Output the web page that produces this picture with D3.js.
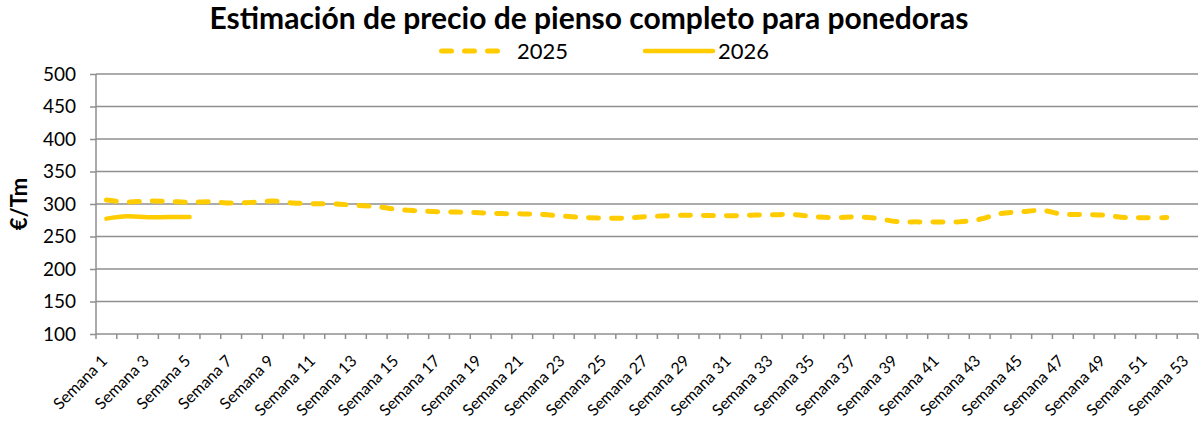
<!DOCTYPE html>
<html>
<head>
<meta charset="utf-8">
<script src="https://cdn.jsdelivr.net/npm/d3@7"></script>
<style>
  body { margin: 0; background: #fff; }
  text { font-family: Lato, "Open Sans", sans-serif; fill: #000; }
</style>
</head>
<body>
<div id="chart"></div>
<script>
// categories: Semana 1 .. Semana 53
var semanas = d3.range(1, 54).map(function(n) { return 'Semana ' + n; });

var precio2025 = [306, 303, 304.5, 304, 302.5, 303.5, 301.5, 302.5, 304.5, 301.5,
                  300.5, 300, 298, 296, 291.5, 289.5, 288, 287.5, 286.5, 285.3,
                  284.8, 283.8, 281.3, 279.2, 278.2, 278.2, 280.7, 281.8, 282.8, 282.3,
                  281.8, 282.8, 283.3, 283.8, 280.7, 279, 280.2, 278.2, 273, 272.5,
                  272.5, 272.5, 276.5, 285.3, 288, 290, 284.3, 283.8, 282.8, 279.2,
                  278.7, 279.2];

var precio2026 = [277.5, 281, 279.5, 280, 280];

var yTicks = [100, 150, 200, 250, 300, 350, 400, 450, 500];

var width = 1199,
    height = 422,
    margin = {top: 74, right: 1, left: 96, bottom: 88},
    amarillo = '#FFCC00',
    gris = '#8f8f8f';

var svg = d3.select('#chart').append('svg')
  .attr('width', width)
  .attr('height', height);

var xScale = d3.scaleBand()
  .domain(semanas)
  .range([margin.left, width - margin.right]);

var yScale = d3.scaleLinear()
  .domain([100, 500])
  .range([height - margin.bottom, margin.top]);

// gridlines
svg.append('g')
  .selectAll('line').data(yTicks.slice(1))
  .enter().append('line')
    .attr('x1', margin.left)
    .attr('x2', width - margin.right)
    .attr('y1', function(d) { return yScale(d); })
    .attr('y2', function(d) { return yScale(d); })
    .attr('stroke', gris)
    .attr('stroke-width', 1.5);

// y axis
var yAxis = svg.append('g')
  .attr('transform', 'translate(' + margin.left + ',0)')
  .call(d3.axisLeft(yScale).tickValues(yTicks).tickSize(6).tickPadding(14));
yAxis.selectAll('path, line').attr('stroke', gris).attr('stroke-width', 1.5);
yAxis.select('.domain').attr('d', 'M0,' + yScale(500) + 'V' + yScale(100));
yAxis.selectAll('text')
  .style('font-size', '19px')
  .style('font-family', 'Lato, sans-serif')
  .attr('fill', '#000');

// x axis: ticks on band edges, labels on odd weeks
var xBase = yScale(100);
svg.append('line')
  .attr('x1', margin.left).attr('x2', width - margin.right)
  .attr('y1', xBase).attr('y2', xBase)
  .attr('stroke', gris).attr('stroke-width', 1.5);

svg.append('g')
  .selectAll('line').data(semanas.concat(['fin']))
  .enter().append('line')
    .attr('x1', function(d, i) { return margin.left + i * xScale.bandwidth(); })
    .attr('x2', function(d, i) { return margin.left + i * xScale.bandwidth(); })
    .attr('y1', xBase)
    .attr('y2', xBase + 5)
    .attr('stroke', gris)
    .attr('stroke-width', 1.5);

svg.append('g')
  .selectAll('text').data(semanas.filter(function(d, i) { return i % 2 === 0; }))
  .enter().append('text')
    .attr('transform', function(d) {
      var x = xScale(d) + xScale.bandwidth() / 2 + 2;
      return 'translate(' + x + ',' + (xBase + 28) + ') rotate(-45)';
    })
    .attr('text-anchor', 'end')
    .style('font-size', '16px')
    .text(function(d) { return d; });

// y axis title
svg.append('text')
  .attr('transform', 'translate(27,' + 204 + ') rotate(-90)')
  .attr('text-anchor', 'middle')
  .style('font-size', '22px')
  .style('font-weight', 'bold')
  .text('€/Tm');

// title
svg.append('text')
  .attr('x', 589)
  .attr('y', 29)
  .attr('text-anchor', 'middle')
  .style('font-size', '30px')
  .style('font-weight', 'bold')
  .text('Estimación de precio de pienso completo para ponedoras');

// lines
var line = d3.line()
  .x(function(d, i) { return xScale(semanas[i]) + xScale.bandwidth() / 2; })
  .y(function(d) { return yScale(d); })
  .curve(d3.curveCatmullRom);

svg.append('path')
  .datum(precio2025)
  .attr('d', line)
  .attr('fill', 'none')
  .attr('stroke', amarillo)
  .attr('stroke-width', 5)
  .attr('stroke-linecap', 'round')
  .attr('stroke-dasharray', '10 13');

svg.append('path')
  .datum(precio2026)
  .attr('d', line)
  .attr('fill', 'none')
  .attr('stroke', amarillo)
  .attr('stroke-width', 4.5)
  .attr('stroke-linecap', 'round');

// legend
var legend = svg.append('g');
legend.append('path')
  .attr('d', 'M441.5,51H504')
  .attr('stroke', amarillo)
  .attr('stroke-width', 5)
  .attr('stroke-linecap', 'round')
  .attr('stroke-dasharray', '10 13');
legend.append('text')
  .attr('x', 517).attr('y', 59)
  .style('font-size', '22px')
  .text('2025');
legend.append('path')
  .attr('d', 'M645,51H713')
  .attr('stroke', amarillo)
  .attr('stroke-width', 4.5)
  .attr('stroke-linecap', 'round');
legend.append('text')
  .attr('x', 718).attr('y', 59)
  .style('font-size', '22px')
  .text('2026');
</script>
</body>
</html>
